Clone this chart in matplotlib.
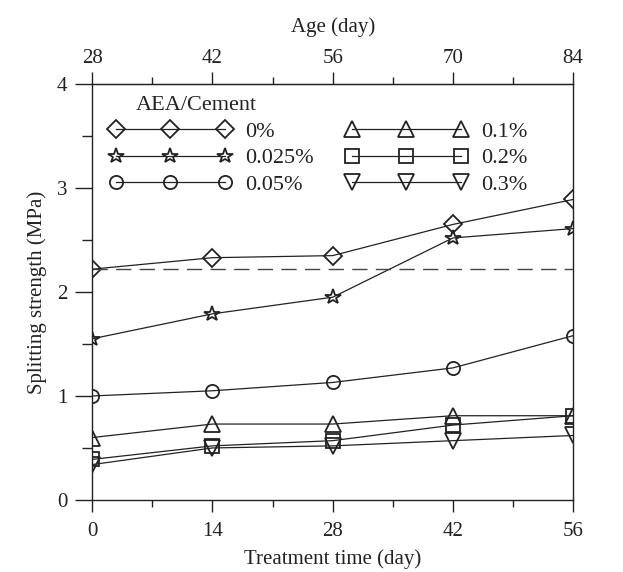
import matplotlib
matplotlib.use("Agg")
import matplotlib.pyplot as plt
from matplotlib.ticker import MultipleLocator

plt.rcParams['font.family'] = ['Liberation Serif', 'DejaVu Serif']

treatment_days = [0, 14, 28, 42, 56]
age_ticks = [28, 42, 56, 70, 84]
series_labels = ['0%', '0.025%', '0.05%', '0.1%', '0.2%', '0.3%']
s_0 = [2.22, 2.33, 2.35, 2.65, 2.89]
s_0025 = [1.55, 1.79, 1.95, 2.52, 2.61]
s_005 = [1.00, 1.05, 1.13, 1.27, 1.58]
s_01 = [0.60, 0.73, 0.73, 0.81, 0.81]
s_02 = [0.39, 0.52, 0.57, 0.72, 0.81]
s_03 = [0.34, 0.50, 0.52, 0.57, 0.62]
reference_level = 2.22

series = [s_0, s_0025, s_005, s_01, s_02, s_03]
markers = ['D', '*', 'o', '^', 's', 'v']
msizes = [9, 11.5, 9.5, 12, 9.5, 12]

ink = '#222222'
fig = plt.figure(figsize=(6.23, 5.72), dpi=100)
ax = fig.add_axes([0.148, 0.126, 0.772, 0.727])

for vals, lab, m, ms in zip(series, series_labels, markers, msizes):
    ax.plot(treatment_days, vals, color=ink, lw=0.9, marker=m, ms=ms,
            mfc='none', mec=ink, mew=1.3, label=lab)

ax.plot([treatment_days[0], treatment_days[-1]], [reference_level, reference_level],
        color='#444444', lw=1.0, dashes=(11, 6))

ax.set_xlim(0, 56)
ax.set_ylim(0, 4)
ax.set_xticks(treatment_days)
ax.xaxis.set_minor_locator(MultipleLocator(7))
ax.yaxis.set_major_locator(MultipleLocator(1))
ax.yaxis.set_minor_locator(MultipleLocator(0.5))
ax.tick_params(axis='x', which='major', direction='out', length=8.6, width=1, labelsize=15, pad=7, colors=ink)
ax.tick_params(axis='x', which='minor', direction='out', length=5, width=1, colors=ink)
ax.tick_params(axis='y', which='major', direction='out', length=12, width=1, labelsize=15, pad=6, colors=ink)
ax.tick_params(axis='y', which='minor', direction='out', length=7, width=1, colors=ink)
ax.set_xlabel('Treatment time (day)', fontsize=15, labelpad=6, color=ink)
ax.set_ylabel('Splitting strength (MPa)', fontsize=15, labelpad=7, color=ink)
for sp in ax.spines.values():
    sp.set_linewidth(1.0)
    sp.set_color(ink)

sec = ax.secondary_xaxis('top', functions=(lambda x: x + 28, lambda x: x - 28))
sec.set_xticks(age_ticks)
sec.xaxis.set_minor_locator(MultipleLocator(7))
sec.tick_params(which='major', direction='out', length=8.6, width=1, labelsize=15, pad=3, colors=ink)
sec.tick_params(which='minor', direction='out', length=5, width=1, colors=ink)
sec.set_xlabel('Age (day)', fontsize=15, labelpad=12, color=ink)
sec.spines['top'].set_color(ink)

leg = ax.legend(ncol=2, numpoints=3, handlelength=5.5, frameon=False, fontsize=16,
                title='AEA/Cement', title_fontsize=16, loc='upper left',
                bbox_to_anchor=(0.0164, 0.992), columnspacing=1.43, labelspacing=0.27,
                handletextpad=0.62, borderaxespad=0.0, borderpad=0.4)
leg._legend_box.align = 'left'
leg.get_title().set_position((27, 0))
for t in leg.get_texts():
    t.set_color(ink)
leg.get_title().set_color(ink)

fig.savefig('out.png', dpi=100)
